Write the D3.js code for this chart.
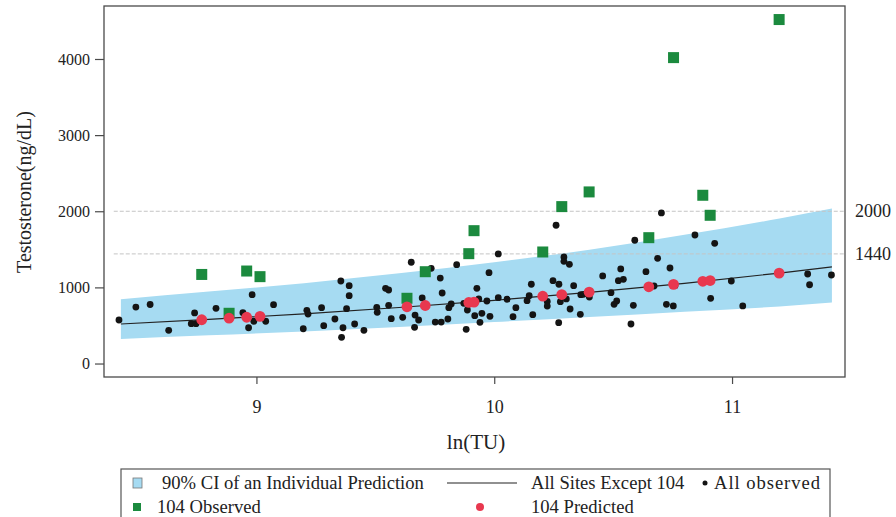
<!DOCTYPE html>
<html>
<head>
<meta charset="utf-8">
<script src="https://cdn.jsdelivr.net/npm/d3@7"></script>
<style>
  html, body { margin: 0; padding: 0; background: #fff; }
  svg { display: block; font-family: "Liberation Serif", "Times New Roman", serif; }
</style>
</head>
<body>
<svg id="chart" width="896" height="517"></svg>
<script>
// 90% prediction band and fitted curve (all sites except 104), sampled along ln(TU)
const ciLnTU   = [8.43, 8.8, 9.2, 9.6, 10.0, 10.4, 10.8, 11.2, 11.42];
const ciLower  = [322, 370, 420, 480, 545, 610, 680, 750, 800];
const ciUpper  = [845, 945, 1055, 1185, 1330, 1495, 1690, 1905, 2035];
const fitValue = [519, 580, 653, 736, 830, 935, 1054, 1188, 1269];

// Site 104: observed vs predicted testosterone at each subject's ln(TU)
const site104LnTU = [8.770, 8.885, 8.959, 9.015, 9.633, 9.710, 9.893, 9.915,
                     10.204, 10.284, 10.399, 10.650, 10.754, 10.877, 10.908, 11.198];
const site104Observed = [1170, 660, 1215, 1141, 857, 1206, 1443, 1745,
                         1465, 2061, 2254, 1653, 4018, 2210, 1947, 4518];
const site104Predicted = [575, 595, 608, 620, 745, 762, 802, 807,
                          884, 906, 937, 1008, 1040, 1080, 1090, 1188];

// All observed subjects
const allLnTU = [8.422, 8.493, 8.553, 8.631, 8.740, 8.726, 8.746, 8.830, 8.982, 8.943,
  8.989, 8.967, 9.039, 9.072, 9.212, 9.217, 9.197, 9.274, 9.283, 9.330,
  9.355, 9.390, 9.390, 9.379, 9.364, 9.358, 9.413, 9.452, 9.506, 9.508,
  9.556, 9.567, 9.543, 9.556, 9.615, 9.651, 9.667, 9.665, 9.682, 9.697,
  9.735, 9.773, 9.752, 9.777, 9.781, 9.805, 9.809, 9.819, 9.842, 9.872,
  9.882, 9.887, 9.918, 9.927, 9.935, 10.017, 9.978, 9.969, 10.017, 10.054,
  9.948, 9.982, 9.940, 10.079, 10.091, 10.138, 10.147, 10.156, 10.162, 10.260,
  10.293, 10.293, 10.316, 10.247, 10.272, 10.334, 10.223, 10.223, 10.278, 10.303,
  10.319, 10.271, 10.362, 10.364, 10.375, 10.400, 10.456, 10.703, 10.591, 10.844,
  10.927, 10.687, 10.532, 10.522, 10.543, 10.638, 10.739, 10.491, 10.515, 10.504,
  10.585, 10.575, 10.672, 10.760, 10.724, 10.753, 10.910, 10.997, 11.045, 11.318,
  11.326, 11.418];
const allTestosterone = [572, 742, 775, 436, 664, 523, 523, 725, 904, 668,
  555, 470, 555, 773, 699, 650, 457, 733, 497, 585,
  1084, 1022, 891, 720, 470, 344, 519, 436, 738, 673,
  765, 589, 988, 966, 607, 1330, 637, 476, 572, 861,
  1251, 1123, 545, 545, 926, 585, 733, 782, 1298, 791,
  449, 703, 628, 988, 848, 1439, 1193, 821, 865, 844,
  660, 620, 541, 615, 733, 825, 891, 1041, 641, 1816,
  1399, 1343, 1303, 1088, 1041, 1022, 815, 755, 812, 848,
  716, 536, 646, 904, 909, 874, 1150, 1978, 1619, 1688,
  1579, 1382, 1242, 1088, 1106, 1206, 1255, 930, 821, 778,
  765, 519, 1018, 1022, 778, 756, 857, 1084, 756, 1176,
  1035, 1163];

const xTicks = [9, 10, 11];
const yTicks = [0, 1000, 2000, 3000, 4000];
const refLevels = [2000, 1440];

const legendRow1 = ["90% CI of an Individual Prediction", "All Sites Except 104", "All observed"];
const legendRow2 = ["104 Observed", "104 Predicted"];

const colors = {
  band: "#a6dbf2",
  green: "#1b8a3e",
  red: "#e8384f",
  dot: "#141414",
  frame: "#4a4a4a",
  ref: "#c4c4c4"
};

const svg = d3.select("#chart");
const plot = { left: 104, right: 845, top: 6, bottom: 377 };

const x = d3.scaleLinear().domain([8.359, 11.475]).range([plot.left, plot.right]);
const y = d3.scaleLinear().domain([-177, 4696]).range([plot.bottom, plot.top]);

// prediction band
const bandRows = ciLnTU.map((v, i) => ({ x: v, lo: ciLower[i], hi: ciUpper[i], fit: fitValue[i] }));
svg.append("path")
  .datum(bandRows)
  .attr("fill", colors.band)
  .attr("d", d3.area().curve(d3.curveMonotoneX)
    .x(d => x(d.x)).y0(d => y(d.lo)).y1(d => y(d.hi)));

// reference levels
svg.selectAll("line.ref").data(refLevels).join("line")
  .attr("class", "ref")
  .attr("x1", x(8.40)).attr("x2", plot.right)
  .attr("y1", d => y(d)).attr("y2", d => y(d))
  .attr("stroke", colors.ref).attr("stroke-width", 1)
  .attr("stroke-dasharray", "4,2");

svg.selectAll("text.reflab").data(refLevels).join("text")
  .attr("class", "reflab")
  .attr("x", 855).attr("y", d => y(d) + 6)
  .attr("font-size", 18).attr("fill", "#222")
  .text(d => d);

// fitted curve
svg.append("path")
  .datum(bandRows)
  .attr("fill", "none").attr("stroke", "#222").attr("stroke-width", 1.2)
  .attr("d", d3.line().curve(d3.curveMonotoneX).x(d => x(d.x)).y(d => y(d.fit)));

// all observed
svg.append("g").selectAll("circle").data(allLnTU).join("circle")
  .attr("cx", d => x(d)).attr("cy", (d, i) => y(allTestosterone[i]))
  .attr("r", 3.4).attr("fill", colors.dot);

// site 104 observed
const sq = 11;
svg.append("g").selectAll("rect").data(site104LnTU).join("rect")
  .attr("x", d => x(d) - sq / 2).attr("y", (d, i) => y(site104Observed[i]) - sq / 2)
  .attr("width", sq).attr("height", sq).attr("fill", colors.green);

// site 104 predicted
svg.append("g").selectAll("circle").data(site104LnTU).join("circle")
  .attr("cx", d => x(d)).attr("cy", (d, i) => y(site104Predicted[i]))
  .attr("r", 5.4).attr("fill", colors.red);

// frame
svg.append("rect")
  .attr("x", plot.left).attr("y", plot.top)
  .attr("width", plot.right - plot.left).attr("height", plot.bottom - plot.top)
  .attr("fill", "none").attr("stroke", colors.frame).attr("stroke-width", 1.3);

// axes
const yAxis = svg.append("g").attr("transform", `translate(${plot.left},0)`)
  .call(d3.axisLeft(y).tickValues(yTicks).tickSize(9).tickPadding(5).tickFormat(d3.format("d")));
yAxis.select(".domain").remove();
yAxis.selectAll("line").attr("stroke", colors.frame).attr("stroke-width", 1.2);
yAxis.selectAll("text").attr("font-size", 16).attr("fill", "#222");
yAxis.attr("font-family", null);

const xAxis = svg.append("g").attr("transform", `translate(0,${plot.bottom})`)
  .call(d3.axisBottom(x).tickValues(xTicks).tickSize(7).tickPadding(16).tickFormat(d3.format("d")));
xAxis.select(".domain").remove();
xAxis.selectAll("line").attr("stroke", colors.frame).attr("stroke-width", 1.2);
xAxis.selectAll("text").attr("font-size", 18).attr("fill", "#222");
xAxis.attr("font-family", null);

// axis titles
svg.append("text")
  .attr("x", 476).attr("y", 449)
  .attr("text-anchor", "middle").attr("font-size", 21).attr("fill", "#222")
  .text("ln(TU)");
svg.append("text")
  .attr("transform", "translate(31,192) rotate(-90)")
  .attr("text-anchor", "middle").attr("font-size", 20).attr("fill", "#222")
  .text("Testosterone(ng/dL)");

// legend
const lg = svg.append("g").attr("transform", "translate(121,469)");
lg.append("rect").attr("x", 0).attr("y", 0).attr("width", 709).attr("height", 60)
  .attr("fill", "#fff").attr("stroke", "#555").attr("stroke-width", 1.2);

const r1 = 14, r2 = 38, fs = 18.6;
lg.append("rect").attr("x", 12).attr("y", r1 - 5).attr("width", 9).attr("height", 10)
  .attr("fill", colors.band).attr("stroke", "#777").attr("stroke-width", 0.8);
lg.append("text").attr("x", 41).attr("y", r1 + 6).attr("font-size", fs).attr("fill", "#222").text(legendRow1[0]);

lg.append("line").attr("x1", 326).attr("x2", 396).attr("y1", r1).attr("y2", r1)
  .attr("stroke", "#222").attr("stroke-width", 1.2);
lg.append("text").attr("x", 410).attr("y", r1 + 6).attr("font-size", fs).attr("fill", "#222").text(legendRow1[1]);

lg.append("circle").attr("cx", 584).attr("cy", r1).attr("r", 2.5).attr("fill", colors.dot);
lg.append("text").attr("x", 593).attr("y", r1 + 6).attr("font-size", fs).attr("fill", "#222")
  .attr("textLength", 106).attr("lengthAdjust", "spacing").text(legendRow1[2]);

lg.append("rect").attr("x", 12).attr("y", r2 - 4).attr("width", 8).attr("height", 8).attr("fill", colors.green);
lg.append("text").attr("x", 36).attr("y", r2 + 6).attr("font-size", fs).attr("fill", "#222").text(legendRow2[0]);

lg.append("circle").attr("cx", 359).attr("cy", r2).attr("r", 4).attr("fill", colors.red);
lg.append("text").attr("x", 410).attr("y", r2 + 6).attr("font-size", fs).attr("fill", "#222").text(legendRow2[1]);
</script>
</body>
</html>
